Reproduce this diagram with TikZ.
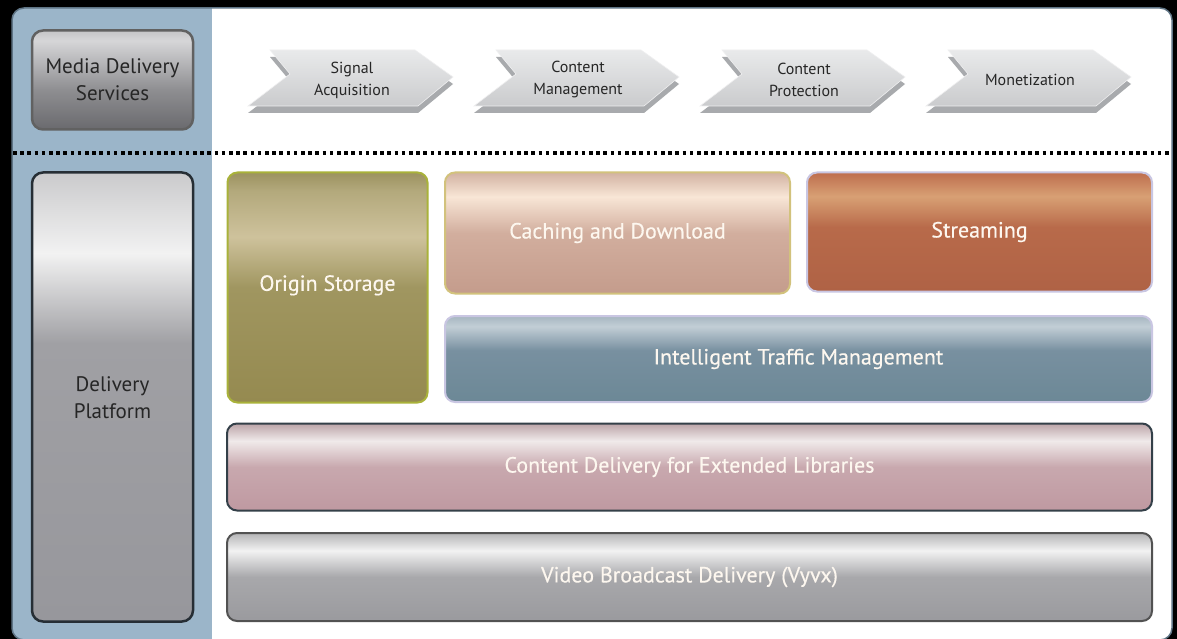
\documentclass[tikz,border=0pt]{standalone}
\usepackage{fontspec}
\setmainfont{PT Sans}
\newfontfamily\blockfont[FakeBold=0.35]{PT Sans}
\usetikzlibrary{positioning}

\definecolor{panelblue}{HTML}{9BB5C9}
\definecolor{framecol}{HTML}{5F7485}
\definecolor{mds1}{HTML}{C4C4C6}\definecolor{mds2}{HTML}{D6D6D8}\definecolor{mds3}{HTML}{8E8E91}\definecolor{mds4}{HTML}{6A6A6E}
\definecolor{dp1}{HTML}{CACACC}\definecolor{dp2}{HTML}{F2F2F2}\definecolor{dp3}{HTML}{A0A0A4}\definecolor{dp4}{HTML}{97979C}
\definecolor{org1}{HTML}{9C9260}\definecolor{org5}{HTML}{B3A97C}\definecolor{org2}{HTML}{CEC29C}\definecolor{org3}{HTML}{A09660}\definecolor{org4}{HTML}{958A50}
\definecolor{cac1}{HTML}{D2B2A2}\definecolor{cac2}{HTML}{F8E6D6}\definecolor{cac3}{HTML}{D2AE9E}\definecolor{cac4}{HTML}{C49C8C}
\definecolor{str1}{HTML}{BE6E4E}\definecolor{str2}{HTML}{D8A074}\definecolor{str3}{HTML}{B86A4A}\definecolor{str4}{HTML}{AF6245}
\definecolor{itm1}{HTML}{A6B6C0}\definecolor{itm2}{HTML}{C2CED6}\definecolor{itm3}{HTML}{7890A0}\definecolor{itm4}{HTML}{6C8896}
\definecolor{cdl1}{HTML}{BCA4A8}\definecolor{cdl2}{HTML}{F0EAEA}\definecolor{cdl3}{HTML}{C8A8AE}\definecolor{cdl4}{HTML}{BF99A1}
\definecolor{vid1}{HTML}{B4B4B6}\definecolor{vid2}{HTML}{F2F2F2}\definecolor{vid3}{HTML}{A8A8AB}\definecolor{vid4}{HTML}{9A9A9E}
\definecolor{chv1}{HTML}{E9EAEB}\definecolor{chv2}{HTML}{CACBCD}
\definecolor{chvside}{HTML}{A8AAAD}
\definecolor{boxtext}{HTML}{FDF7EF}
\definecolor{orgborder}{HTML}{A9B23A}
\definecolor{cacborder}{HTML}{D2C27C}
\definecolor{lavborder}{HTML}{C9C6E2}

% vertical shadings: 25bp = bottom edge, 75bp = top edge of the filled path
\pgfdeclareverticalshading{mdsShade}{100bp}{color(0bp)=(mds4); color(25bp)=(mds4); color(45bp)=(mds3); color(70bp)=(mds2); color(75bp)=(mds1); color(100bp)=(mds1)}
\pgfdeclareverticalshading{dpShade}{100bp}{color(0bp)=(dp4); color(25bp)=(dp4); color(56bp)=(dp3); color(66bp)=(dp2); color(75bp)=(dp1); color(100bp)=(dp1)}
\pgfdeclareverticalshading{orgShade}{100bp}{color(0bp)=(org4); color(25bp)=(org4); color(50bp)=(org3); color(61bp)=(org2); color(71bp)=(org5); color(75bp)=(org1); color(100bp)=(org1)}
\pgfdeclareverticalshading{cacheShade}{100bp}{color(0bp)=(cac4); color(25bp)=(cac4); color(50bp)=(cac3); color(65bp)=(cac2); color(75bp)=(cac1); color(100bp)=(cac1)}
\pgfdeclareverticalshading{streamShade}{100bp}{color(0bp)=(str4); color(25bp)=(str4); color(52bp)=(str3); color(65bp)=(str2); color(75bp)=(str1); color(100bp)=(str1)}
\pgfdeclareverticalshading{itmShade}{100bp}{color(0bp)=(itm4); color(25bp)=(itm4); color(55bp)=(itm3); color(69bp)=(itm2); color(75bp)=(itm1); color(100bp)=(itm1)}
\pgfdeclareverticalshading{cdelShade}{100bp}{color(0bp)=(cdl4); color(25bp)=(cdl4); color(50bp)=(cdl3); color(65bp)=(cdl2); color(75bp)=(cdl1); color(100bp)=(cdl1)}
\pgfdeclareverticalshading{vidShade}{100bp}{color(0bp)=(vid4); color(25bp)=(vid4); color(50bp)=(vid3); color(65bp)=(vid2); color(75bp)=(vid1); color(100bp)=(vid1)}
\pgfdeclareverticalshading{chevShade}{100bp}{color(0bp)=(chv2); color(25bp)=(chv2); color(75bp)=(chv1); color(100bp)=(chv1)}

\tikzset{
  block/.style={rectangle, rounded corners=10pt, inner sep=0pt, line width=2pt,
    text=boxtext, font=\blockfont\fontsize{22}{26}\selectfont, align=center},
  sidebox/.style={rectangle, rounded corners=11pt, inner sep=0pt, line width=2.5pt,
    text=black!85, font=\fontsize{21}{27}\selectfont, align=center},
  chevface/.style={shading=chevShade, draw=white!70!chv2, line width=0.6pt},
  chevside/.style={fill=chvside},
  chevlabel/.style={text=black!85, font=\fontsize{16}{22}\selectfont, align=center, inner sep=0pt},
  sepline/.style={line width=3.8pt, dash pattern=on 3.6pt off 3.6pt},
}

% one process arrow of the top row, its lower-left corner at x=#1
\newcommand{\chevronshape}[1]{%
  (#1+22,50) -- (#1+167,50) -- (#1+205,77) -- (#1+170,106) -- (#1,106) -- (#1+42,74) -- cycle}

\begin{document}
\begin{tikzpicture}[x=1pt,y=-1pt]
  \useasboundingbox (0,0) rectangle (1177,639);
  \fill[black] (0,0) rectangle (1177,639);

  % outer frame with the blue label column
  \begin{scope}
    \clip[rounded corners=12pt] (12,8) rectangle (1172,640);
    \fill[white] (12,8) rectangle (1172,640);
    \fill[panelblue] (12,8) rectangle (212,640);
  \end{scope}
  \draw[framecol, line width=1.5pt, rounded corners=12pt] (12,8) rectangle (1172,640);

  % separator between services and platform
  \coordinate (sepL) at (13,153);
  \coordinate (sepR) at (1171,153);
  \draw[sepline] (sepL) -- (sepR);

  % left column labels
  \node[sidebox, draw=black!62, shading=mdsShade, minimum width=161pt, minimum height=99pt]
    (mds) at (112.5,80) {Media Delivery\\Services};
  \node[sidebox, draw=black!60!framecol, shading=dpShade, minimum width=161pt, minimum height=449pt]
    (dp) at (112.5,397) {};
  \node[text=black!85, font=\fontsize{21}{27}\selectfont, align=center] (dplabel) at (112.5,398) {Delivery\\Platform};

  % process arrows
  \foreach \x/\nm/\txt in {248/sig/{Signal\\Acquisition}, 474/cm/{Content\\Management},
                          700/cp/{Content\\Protection}, 926/mon/{Monetization}} {
    \fill[chevside] [yshift=-7pt] \chevronshape{\x};
    \path[chevface] \chevronshape{\x};
    \node[chevlabel] (\nm) at (\x+104,80) {\txt};
  }

  % platform blocks
  \node[block, draw=orgborder, shading=orgShade, minimum width=200pt, minimum height=230pt]
    (origin) at (327.5,287.5) {\raisebox{9pt}{Origin Storage}};
  \node[block, draw=cacborder, shading=cacheShade, minimum width=345pt, minimum height=121pt]
    (cache) at (617.5,233) {\raisebox{4pt}{Caching and Download}};
  \node[block, draw=lavborder, shading=streamShade, minimum width=345pt, minimum height=119pt]
    (stream) at (979.5,232) {\raisebox{4pt}{Streaming}};
  \node[block, draw=lavborder, shading=itmShade, minimum width=707pt, minimum height=86pt]
    (itm) at (798.5,359) {\raisebox{-1pt}{Intelligent Traffic Management}};
  \node[block, draw=black!45!framecol, shading=cdelShade, minimum width=925pt, minimum height=87pt]
    (cdel) at (689.5,467) {\raisebox{-2pt}{Content Delivery for Extended Libraries}};
  \node[block, draw=black!68, shading=vidShade, minimum width=925pt, minimum height=88pt]
    (video) at (689.5,577) {\raisebox{-2pt}{Video Broadcast Delivery (Vyvx)}};
\end{tikzpicture}
\end{document}
